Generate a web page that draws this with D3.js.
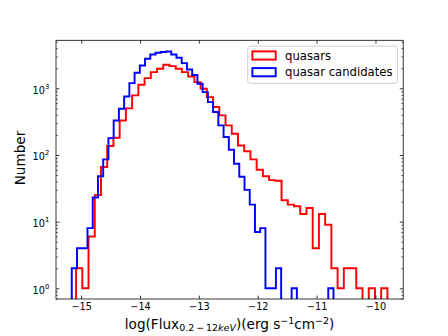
<!DOCTYPE html>
<html>
<head>
<meta charset="utf-8">
<script src="https://cdn.jsdelivr.net/npm/d3@7"></script>
<style>
  html, body { margin: 0; padding: 0; background: #fff; }
  svg { display: block; font-family: "DejaVu Sans", sans-serif; }
</style>
</head>
<body>
<svg id="chart" width="448" height="336"></svg>
<script>
// ---- data (50 bins each) ----
const quasarCounts = [2, 1, 6, 25, 66, 136, 181, 330, 500, 783,
  1132, 1422, 1750, 1968, 2259, 2153, 1968, 1750, 1508, 1238,
  986, 738, 523, 393, 278, 208, 139, 114, 86, 60,
  48, 42, 41, 21, 18, 17, 13, 16, 4, 13,
  9, 2, 1, 2, 2, 1, 0, 1, 0, 1];
const candidateCounts = [2, 4, 4, 8, 23, 48, 86, 179, 330, 494,
  756, 1197, 1714, 2204, 2773, 3224, 3420, 3500, 3575, 3224,
  2875, 2387, 1920, 1580, 1173, 877, 621, 440, 278, 186,
  120, 74, 47, 30, 18, 7, 8, 1, 1, 2,
  0, 0, 1, 0, 0, 0, 0, 0, 0, 1];
const quasarRange = [-15.086, -9.797];
const candidateRange = [-15.159, -10.713];
const xTicks = [-15, -14, -13, -12, -11, -10];
const yTicks = [1, 10, 100, 1000];
const seriesNames = ["quasars", "quasar candidates"];
const seriesColors = ["#ff0000", "#0000ff"];

// ---- layout ----
const plot = { left: 56, right: 403.2, top: 40.3, bottom: 299 };

const svg = d3.select("#chart");

const lo = Math.min(quasarRange[0], candidateRange[0]);
const hi = Math.max(quasarRange[1], candidateRange[1]);
const pad = (hi - lo) * 0.05;

const x = d3.scaleLinear()
  .domain([lo - pad, hi + pad])
  .range([plot.left, plot.right]);

const y = d3.scaleLog()
  .domain([Math.pow(10, -0.16), Math.pow(10, 3.72)])
  .range([plot.bottom, plot.top]);

svg.append("clipPath").attr("id", "plot-clip")
  .append("rect")
    .attr("x", plot.left)
    .attr("y", plot.top)
    .attr("width", plot.right - plot.left)
    .attr("height", plot.bottom - plot.top);

// ---- step histograms ----
function stepPoints(counts, range) {
  const n = counts.length;
  const edge = d3.scaleLinear().domain([0, n]).range(range);
  const pts = [[edge(0), 0]];
  counts.forEach((c, i) => {
    pts.push([edge(i), c]);
    pts.push([edge(i + 1), c]);
  });
  pts.push([edge(n), 0]);
  return pts;
}

const line = d3.line()
  .x(d => x(d[0]))
  .y(d => d[1] > 0 ? y(d[1]) : plot.bottom + 20);

const series = [
  { counts: quasarCounts, range: quasarRange },
  { counts: candidateCounts, range: candidateRange }
];

svg.append("g")
  .attr("clip-path", "url(#plot-clip)")
  .selectAll("path")
  .data(series)
  .join("path")
    .attr("d", d => line(stepPoints(d.counts, d.range)))
    .attr("fill", "none")
    .attr("stroke", (d, i) => seriesColors[i])
    .attr("stroke-width", 1.94)
    .attr("stroke-linejoin", "miter");

// ---- axes (ticks pointing inward, on all sides) ----
const majorLen = 3.4, minorLen = 1.94;
const yMinor = y.ticks().filter(v => !yTicks.includes(v));

function styleAxis(g, width) {
  g.select(".domain").remove();
  g.selectAll(".tick line").attr("stroke", "#000").attr("stroke-width", width);
  g.selectAll("text")
    .attr("fill", "#000")
    .attr("font-family", "DejaVu Sans")
    .attr("font-size", 9.72);
}

svg.append("g")
  .attr("transform", `translate(0,${plot.bottom})`)
  .call(d3.axisBottom(x).tickValues(xTicks).tickSize(-majorLen).tickPadding(4.1)
    .tickFormat(d => d < 0 ? "\u2212" + Math.abs(d) : d))
  .call(g => styleAxis(g, 0.78));

svg.append("g")
  .attr("transform", `translate(0,${plot.top})`)
  .call(d3.axisTop(x).tickValues(xTicks).tickSize(-majorLen).tickFormat(""))
  .call(g => styleAxis(g, 0.78));

svg.append("g")
  .attr("transform", `translate(${plot.left},0)`)
  .call(d3.axisLeft(y).tickValues(yTicks).tickSize(-majorLen).tickPadding(6.8)
    .tickFormat(""))
  .call(g => styleAxis(g, 0.78))
  .call(g => g.selectAll(".tick text").each(function(d) {
    const t = d3.select(this).attr("dy", null).attr("y", 5);
    t.append("tspan").text("10");
    t.append("tspan").attr("dy", -5.3).attr("font-size", 6.8)
      .text(Math.round(Math.log10(d)));
  }));

svg.append("g")
  .attr("transform", `translate(${plot.left},0)`)
  .call(d3.axisLeft(y).tickValues(yMinor).tickSize(-minorLen).tickFormat(""))
  .call(g => styleAxis(g, 0.58));

svg.append("g")
  .attr("transform", `translate(${plot.right},0)`)
  .call(d3.axisRight(y).tickValues(yTicks).tickSize(-majorLen).tickFormat(""))
  .call(g => styleAxis(g, 0.78));

svg.append("g")
  .attr("transform", `translate(${plot.right},0)`)
  .call(d3.axisRight(y).tickValues(yMinor).tickSize(-minorLen).tickFormat(""))
  .call(g => styleAxis(g, 0.58));

// frame
svg.append("rect")
  .attr("x", plot.left)
  .attr("y", plot.top)
  .attr("width", plot.right - plot.left)
  .attr("height", plot.bottom - plot.top)
  .attr("fill", "none")
  .attr("stroke", "#000")
  .attr("stroke-width", 0.78);

// ---- axis labels ----
const xl = svg.append("text")
  .attr("x", (plot.left + plot.right) / 2)
  .attr("y", 328.5)
  .attr("text-anchor", "middle")
  .attr("font-size", 13.6)
  .attr("fill", "#000");
xl.append("tspan").text("log(Flux");
xl.append("tspan").attr("font-size", 9.5).attr("dy", 2.4).text("0.2\u2009\u2212\u200912");
xl.append("tspan").attr("font-size", 9.5).attr("font-style", "italic").text("keV");
xl.append("tspan").attr("dy", -2.4).text(")(erg s");
xl.append("tspan").attr("font-size", 9.5).attr("dy", -4.2).text("\u22121");
xl.append("tspan").attr("dy", 4.2).text("cm");
xl.append("tspan").attr("font-size", 9.5).attr("dy", -4.2).text("\u22122");
xl.append("tspan").attr("dy", 4.2).text(")");

svg.append("text")
  .attr("transform", `translate(25,158) rotate(-90)`)
  .attr("text-anchor", "middle")
  .attr("font-size", 13.6)
  .attr("fill", "#000")
  .text("Number");

// ---- legend ----
const legend = svg.append("g").attr("transform", "translate(247.7,46.1)");
legend.append("rect")
  .attr("width", 149.7)
  .attr("height", 37.2)
  .attr("rx", 2.5)
  .attr("fill", "#fff")
  .attr("fill-opacity", 0.8)
  .attr("stroke", "#cccccc")
  .attr("stroke-width", 0.97);

const rows = legend.selectAll("g.row")
  .data(seriesNames)
  .join("g")
    .attr("class", "row")
    .attr("transform", (d, i) => `translate(0,${9.4 + i * 16.7})`);

rows.append("rect")
  .attr("x", 4.7)
  .attr("y", -4.1)
  .attr("width", 23.3)
  .attr("height", 8.2)
  .attr("fill", "none")
  .attr("stroke", (d, i) => seriesColors[i])
  .attr("stroke-width", 1.94);

rows.append("text")
  .attr("x", 37.3)
  .attr("y", 4.1)
  .attr("font-size", 11.67)
  .attr("fill", "#000")
  .text(d => d);
</script>
</body>
</html>
